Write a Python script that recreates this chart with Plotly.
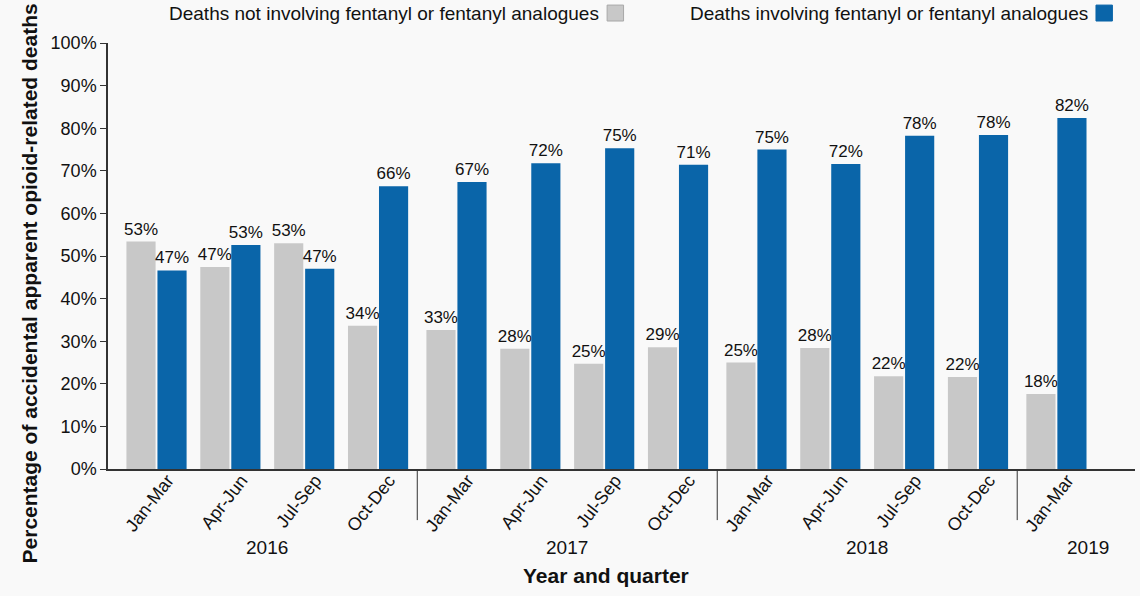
import plotly.graph_objects as go

years = ['2016'] * 4 + ['2017'] * 4 + ['2018'] * 4 + ['2019']
quarters = ['Jan-Mar', 'Apr-Jun', 'Jul-Sep', 'Oct-Dec'] * 3 + ['Jan-Mar']

not_fentanyl = [53.4, 47.4, 53.0, 33.6, 32.6, 28.2, 24.7, 28.6, 25.0, 28.4, 21.8, 21.6, 17.6]
fentanyl = [46.6, 52.6, 47.0, 66.4, 67.4, 71.8, 75.3, 71.4, 75.0, 71.6, 78.2, 78.4, 82.4]

names = ['Deaths not involving fentanyl or fentanyl analogues',
         'Deaths involving fentanyl or fentanyl analogues']
colors = ['#c8c8c8', '#0a65a9']

font = 'Liberation Sans, Arial, sans-serif'

# bar positions: one slot per quarter, a small extra gap between years
year_list = sorted(set(years))
year_idx = [year_list.index(y) for y in years]
xpos = [i + 0.062 * yi for i, yi in enumerate(year_idx)]

fig = go.Figure()
for vals, name, col in zip([not_fentanyl, fentanyl], names, colors):
    fig.add_trace(go.Bar(x=xpos, y=vals, name=name,
                         marker=dict(color=col, line=dict(width=0)),
                         texttemplate='%{y:.0f}%', textposition='outside',
                         textfont=dict(size=17, color='#111'), constraintext='none',
                         cliponaxis=False, showlegend=False))

# year labels and dividers
for k, yr in enumerate(year_list):
    xs = [x for x, y in zip(xpos, years) if y == yr]
    cx = sum(xs) / len(xs)
    if len(xs) == 1:
        cx += 0.43
    fig.add_annotation(x=cx, y=-0.1854, xref='x', yref='paper', text=yr,
                       xanchor='center', yanchor='middle',
                       showarrow=False, font=dict(size=19, color='#111'))
    if k > 0:
        prev = [x for x, y in zip(xpos, years) if y == year_list[k - 1]]
        dx = (prev[-1] + xs[0]) / 2
        fig.add_shape(type='line', xref='x', yref='paper', x0=dx, x1=dx, y0=0, y1=-0.12,
                      line=dict(color='#333', width=1))

# legend: text on the left of the colour square
legend_x = [0.4805, 0.9565]
for lx, name, col in zip(legend_x, names, colors):
    fig.add_annotation(xref='paper', yref='paper', x=lx, y=1.0704, text=name,
                       showarrow=False, xanchor='right', yanchor='middle',
                       font=dict(size=19, color='#111'))
    fig.add_shape(type='rect', xref='paper', yref='paper',
                  x0=lx + 0.0055, x1=lx + 0.0055 + 0.0160, y0=1.0516, y1=1.089,
                  fillcolor=col, line=dict(color='#a8a8a8' if col == '#c8c8c8' else col, width=1))

fig.add_annotation(xref='paper', yref='paper', x=-0.076, y=0.4354, xanchor='center', yanchor='middle',
                   text='<b>Percentage of accidental apparent opioid-related deaths</b>',
                   textangle=-90, showarrow=False, font=dict(size=21, color='#111'))
fig.add_annotation(xref='paper', yref='paper', x=0.485, y=-0.249, xanchor='center', yanchor='middle',
                   text='<b>Year and quarter</b>', showarrow=False, font=dict(size=21, color='#111'))

fig.update_layout(
    width=1140, height=596,
    margin=dict(l=108, r=5, t=43, b=127),
    paper_bgcolor='#f9f9f9', plot_bgcolor='#f9f9f9',
    font=dict(family=font, size=17, color='#111'),
    barmode='group', bargap=0.16, bargroupgap=0.06,
    xaxis=dict(range=[-0.657, 13.25], tickmode='array', tickvals=xpos, ticktext=quarters,
               tickangle=-52, ticklabelshift=11, ticklabelstandoff=-8,
               showline=True, linecolor='#333', linewidth=1.5, ticks='',
               tickfont=dict(size=18), showgrid=False, zeroline=False),
    yaxis=dict(range=[0, 100], dtick=10, ticksuffix='%', showgrid=False, zeroline=False,
               showline=True, linecolor='#333', linewidth=1.5, ticks='outside', ticklen=6,
               tickcolor='#333', tickfont=dict(size=18)),
)

# page body has a default margin; drop it so the figure fills the window
fig.write_html('out.html', config={'displayModeBar': False},
               post_script="document.body.style.margin = '0';")
